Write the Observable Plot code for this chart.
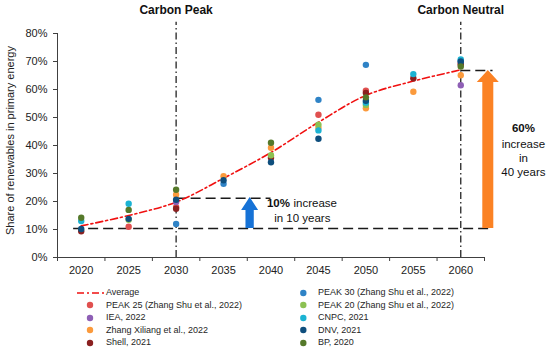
<!DOCTYPE html>
<html><head><meta charset="utf-8">
<script src="https://cdn.jsdelivr.net/npm/d3@7"></script>
<script src="https://cdn.jsdelivr.net/npm/@observablehq/plot@0.6"></script>
<style>
body{margin:0;background:#fff;font-family:"Liberation Sans",Arial,sans-serif;}
#legend{position:relative;width:550px;height:73px;font-size:9px;color:#262626;}
.li{position:absolute;white-space:nowrap;line-height:12px;height:12px;}
</style></head><body>
<div id="chart"></div><div id="legend"></div>
<script>
// ---- data ----
const years = [2020, 2025, 2030, 2035, 2040, 2045, 2050, 2055, 2060];
const average = [11.3, 15.0, 19.8, 28.3, 37.5, 48.3, 57.9, 63.0, 67.0];
const peak25 = [null, 11.0, 18.0, null, null, 51.0, 59.6, null, 69.5];
const iea = [null, null, 19.8, null, null, null, null, null, 61.5];
const zhangXiliang = [null, null, 22.4, 29.0, 39.2, 46.3, 53.3, 59.2, 65.1];
const shell = [9.4, null, 17.4, null, 35.6, null, 58.8, 64.0, 68.9];
const peak30 = [null, null, 12.0, 26.3, null, 56.3, 68.8, null, 70.2];
const peak20 = [null, 13.5, null, null, 36.5, 47.4, 54.5, null, null];
const cnpc = [13.0, 19.2, null, null, null, 45.4, 55.3, 65.5, 70.7];
const dnv = [10.2, 13.8, 20.6, 27.6, 34.0, 42.4, 56.0, null, 70.0];
const bp = [14.2, 17.0, 24.2, null, 41.0, null, 57.2, null, 68.2];

const seriesNames = ["PEAK 25 (Zhang Shu et al., 2022)", "IEA, 2022", "Zhang Xiliang et al., 2022", "Shell, 2021",
  "PEAK 30 (Zhang Shu et al., 2022)", "PEAK 20 (Zhang Shu et al., 2022)", "CNPC, 2021", "DNV, 2021", "BP, 2020"];
const seriesValues = [peak25, iea, zhangXiliang, shell, peak30, peak20, cnpc, dnv, bp];
const seriesColors = ["#e0504f", "#8e5fb5", "#fb9a3c", "#8a2020", "#2f83c6", "#8cc152", "#1bb3d3", "#0e4e7d", "#55792a"];

const yTicks = [0, 10, 20, 30, 40, 50, 60, 70, 80];
const milestones = [2030, 2060];
const milestoneLabels = ["Carbon Peak", "Carbon Neutral"];
const baseLevel = 10.4, peakLevel = 21.2, neutralLevel = 66.8;
const yTitle = "Share of renewables in primary energy";

// ---- tables ----
const points = [];
seriesNames.forEach((s, i) => seriesValues[i].forEach((v, j) => { if (v != null) points.push({series: s, year: years[j], value: v}); }));
const avgData = years.map((y, i) => ({year: y, value: average[i]}));
const tickBetween = d3.range(years[0] - 2.5, years[years.length - 1] + 5, 5);
const dashSegs = [
  {y: baseLevel, x1: 2019.2, x2: 2063.4},
  {y: peakLevel, x1: 2030, x2: 2040},
  {y: neutralLevel, x1: 2060, x2: 2063.4}
];
const arrows = [
  {x: 2037.8, y1: baseLevel, y2: peakLevel + 0.2, shaft: 8.3, head: 17, headLen: 13, color: "#1672d6"},
  {x: 2062.9, y1: baseLevel, y2: neutralLevel, shaft: 11, head: 22, headLen: 12, color: "#fb8224"}
];
const labels = milestones.map((m, i) => ({x: m, y: 88.2, text: milestoneLabels[i]}));

function arrowMark(index, scales) {
  const g = d3.create("svg:g");
  for (const a of arrows) {
    const cx = scales.x(a.x), yb = scales.y(a.y1), yt = scales.y(a.y2);
    const s = a.shaft / 2, h = a.head / 2, hb = yt + a.headLen;
    g.append("path")
      .attr("d", `M${cx - s},${yb}L${cx - s},${hb}L${cx - h},${hb}L${cx},${yt}L${cx + h},${hb}L${cx + s},${hb}L${cx + s},${yb}Z`)
      .attr("fill", a.color);
  }
  return g.node();
}

const chart = Plot.plot({
  width: 550, height: 278,
  marginLeft: 57, marginRight: 66, marginTop: 33, marginBottom: 21,
  style: {fontFamily: "'Liberation Sans', Arial, sans-serif", fontSize: "11px", color: "#222", background: "#fff"},
  x: {domain: [2017.5, 2062.5]},
  y: {domain: [0, 80]},
  color: {domain: seriesNames, range: seriesColors},
  marks: [
    Plot.ruleY(dashSegs, {y: "y", x1: "x1", x2: "x2", stroke: "#1a1a1a", strokeWidth: 1.5, strokeDasharray: "10,5"}),
    Plot.ruleX(milestones, {x: d => d, y1: 0, y2: 84, stroke: "#111", strokeWidth: 1.2, strokeDasharray: "7,3,1.5,3"}),
    arrowMark,
    Plot.line(avgData, {x: "year", y: "value", curve: "catmull-rom", stroke: "#f01010", strokeWidth: 1.6, strokeDasharray: "7,3,2,3"}),
    Plot.dot(points, {x: "year", y: "value", fill: "series", r: 3.2}),
    Plot.ruleY([0], {stroke: "#404040", strokeWidth: 1}),
    Plot.ruleX([2017.5], {y1: 0, y2: 80, stroke: "#404040", strokeWidth: 1}),
    Plot.axisY(yTicks, {tickSize: 4, tickPadding: 6, tickFormat: d => d + "%", label: null, stroke: "#404040", fontSize: 11, color: "#222"}),
    Plot.axisX(tickBetween, {tickSize: 4, tickFormat: () => "", label: null, stroke: "#404040"}),
    Plot.axisX(years, {tickSize: 0, tickPadding: 9, tickFormat: d => String(d), label: null, fontSize: 11}),
    Plot.text([yTitle], {frameAnchor: "left", textAnchor: "middle", dx: -47, dy: -5, rotate: -90, fontSize: 11, fill: "#222"}),
    Plot.text(labels, {x: "x", y: "y", text: "text", fontWeight: "bold", fontSize: 12, fill: "#111"}),
    Plot.text(["10%"], {x: 2042, y: 19.3, textAnchor: "end", fontWeight: "bold", fontSize: 11.5, fill: "#111"}),
    Plot.text(["increase"], {x: 2042, y: 19.3, dx: 3.5, textAnchor: "start", fontSize: 11.5, fill: "#111"}),
    Plot.text(["in 10 years"], {x: 2043.3, y: 13.9, fontSize: 11.5, fill: "#111"}),
    Plot.text(["60%"], {x: 2066.6, y: 46.1, fontWeight: "bold", fontSize: 11.5, fill: "#111"}),
    Plot.text(["increase"], {x: 2066.6, y: 40.4, fontSize: 11.5, fill: "#111"}),
    Plot.text(["in"], {x: 2066.6, y: 35.4, fontSize: 11.5, fill: "#111"}),
    Plot.text(["40 years"], {x: 2066.6, y: 30.4, fontSize: 11.5, fill: "#111"})
  ]
});
document.getElementById("chart").appendChild(chart);

// ---- legend ----
const legend = document.getElementById("legend");
const rowY = i => 14.7 + 12.5 * i;
function addItem(col, row, html, text) {
  const sym = document.createElement("div");
  sym.className = "li";
  sym.style.left = (col === 0 ? 77 : 290) + "px";
  sym.style.top = (rowY(row) - 6) + "px";
  sym.innerHTML = html;
  legend.appendChild(sym);
  const t = document.createElement("div");
  t.className = "li";
  t.style.left = (col === 0 ? 106 : 318) + "px";
  t.style.top = (rowY(row) - 6.5) + "px";
  t.textContent = text;
  legend.appendChild(t);
}
addItem(0, 0, `<svg width="27" height="12"><line x1="0" x2="27" y1="6" y2="6" stroke="#f01010" stroke-width="1.6" stroke-dasharray="7,3,2,3"/></svg>`, "Average");
const leftOrder = [0, 1, 2, 3], rightOrder = [4, 5, 6, 7, 8];
leftOrder.forEach((k, i) => addItem(0, i + 1, `<svg width="27" height="12"><circle cx="13" cy="6" r="3.2" fill="${seriesColors[k]}"/></svg>`, seriesNames[k]));
rightOrder.forEach((k, i) => addItem(1, i, `<svg width="27" height="12"><circle cx="13.3" cy="6" r="3.2" fill="${seriesColors[k]}"/></svg>`, seriesNames[k]));
</script>
</body></html>
